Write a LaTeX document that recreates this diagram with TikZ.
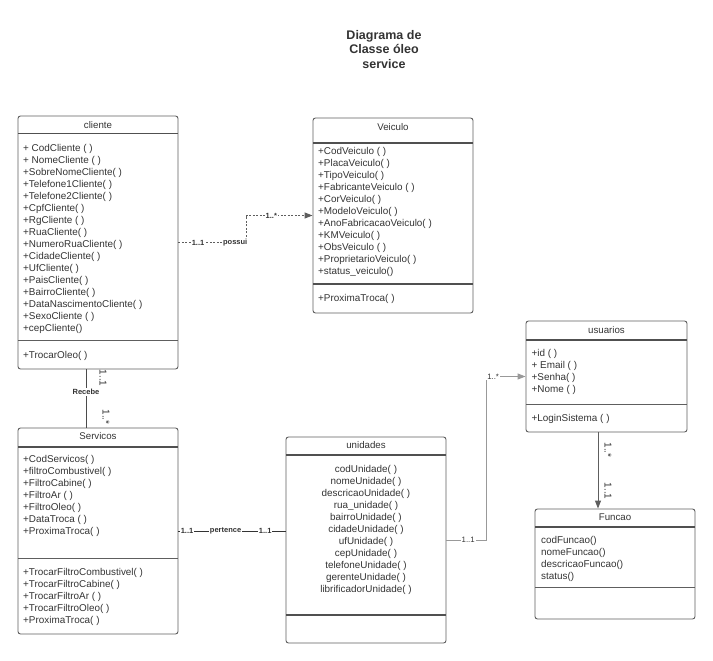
\documentclass[tikz,border=0pt]{standalone}
\usepackage{fontspec}
\setmainfont{Liberation Sans}
\usetikzlibrary{arrows.meta}

\definecolor{boxline}{HTML}{5E5E5E}
\definecolor{inktext}{HTML}{333333}
\definecolor{linkgray}{HTML}{999999}

\tikzset{
  classbox/.style={draw=boxline, line width=0.9pt, rounded corners=2.5pt,
    minimum width=160pt, inner sep=0pt},
  classname/.style={text=inktext, inner sep=0pt, font=\fontsize{9.7}{12}\selectfont},
  members/.style={anchor=north west, inner sep=0pt, align=left, text=inktext,
    font=\fontsize{9.9}{12}\selectfont},
  headline/.style={draw=boxline!85!black, line width=1.6pt},
  divline/.style={draw=boxline, line width=0.9pt},
  assoc/.style={draw=boxline, line width=0.9pt},
  linklabel/.style={fill=white, inner sep=1pt, text=inktext,
    font=\bfseries\fontsize{7.5}{9}\selectfont},
  multsmall/.style={fill=white, inner sep=1pt, text=inktext,
    font=\fontsize{7.8}{9}\selectfont},
  multrot/.style={rotate=-90, inner sep=0pt, text=inktext,
    font=\fontsize{10}{11}\selectfont},
  diagtitle/.style={align=center, text=inktext, inner sep=0pt,
    font=\bfseries\fontsize{12.5}{14.5}\selectfont},
  tip/.style={-{Triangle[length=8pt,width=6pt]}}
}

\begin{document}
\begin{tikzpicture}[x=1pt, y=-1pt]
  \useasboundingbox (0,0) rectangle (713,661);

  %title
  \node[diagtitle] (titulo) at (384,49.5) {Diagrama de\\Classe óleo\\service};

  %cliente
  \node[classbox, minimum height=253pt] (cliente) at (98,242.5) {};
  \node[classname] (cliente name) at (98,125) {cliente};
  \draw[headline] (18,133.5) -- (178,133.5);
  \node[members] (cliente attr) at (23,144.3) {+ CodCliente ( )\\+ NomeCliente ( )\\+SobreNomeCliente( )\\+Telefone1Cliente( )\\+Telefone2Cliente( )\\+CpfCliente( )\\+RgCliente ( )\\+RuaCliente( )\\+NumeroRuaCliente( )\\+CidadeCliente( )\\+UfCliente( )\\+PaisCliente( )\\+BairroCliente( )\\+DataNascimentoCliente( )\\+SexoCliente ( )\\+cepCliente()};
  \draw[divline] (18,340) -- (178,340);
  \node[members] (cliente ops) at (23,351.3) {+TrocarOleo( )};

  %Veiculo
  \node[classbox, minimum height=195pt] (veiculo) at (393,215.5) {};
  \node[classname] (veiculo name) at (393,127) {Veiculo};
  \draw[headline] (313,143) -- (473,143);
  \node[members] (veiculo attr) at (318,147.3) {+CodVeiculo ( )\\+PlacaVeiculo( )\\+TipoVeiculo( )\\+FabricanteVeiculo ( )\\+CorVeiculo( )\\+ModeloVeiculo( )\\+AnoFabricacaoVeiculo( )\\+KMVeiculo( )\\+ObsVeiculo ( )\\+ProprietarioVeiculo( )\\+status\_veiculo()};
  \draw[headline] (313,284) -- (473,284);
  \node[members] (veiculo ops) at (318,294.3) {+ProximaTroca( )};

  %Servicos
  \node[classbox, minimum height=206pt] (servicos) at (98,531) {};
  \node[classname] (servicos name) at (98,436) {Servicos};
  \draw[headline] (18,447) -- (178,447);
  \node[members] (servicos attr) at (23,455.3) {+CodServicos( )\\+filtroCombustivel( )\\+FiltroCabine( )\\+FiltroAr ( )\\+FiltroOleo( )\\+DataTroca ( )\\+ProximaTroca( )};
  \draw[divline] (18,558) -- (178,558);
  \node[members] (servicos ops) at (23,568.3) {+TrocarFiltroCombustivel( )\\+TrocarFiltroCabine( )\\+TrocarFiltroAr ( )\\+TrocarFiltroOleo( )\\+ProximaTroca( )};

  %unidades
  \node[classbox, minimum height=206pt] (unidades) at (366,540) {};
  \node[classname] (unidades name) at (366,445) {unidades};
  \draw[headline] (286,455) -- (446,455);
  \node[members, anchor=north, align=center] (unidades attr) at (366,465.3) {codUnidade( )\\nomeUnidade( )\\descricaoUnidade( )\\rua\_unidade( )\\bairroUnidade( )\\cidadeUnidade( )\\ufUnidade( )\\cepUnidade( )\\telefoneUnidade( )\\gerenteUnidade( )\\librificadorUnidade( )};
  \draw[headline] (286,615) -- (446,615);

  %usuarios
  \node[classbox, minimum width=161pt, minimum height=111pt] (usuarios) at (606.5,376.5) {};
  \node[classname] (usuarios name) at (606.5,330) {usuarios};
  \draw[headline] (526,340) -- (687,340);
  \node[members] (usuarios attr) at (531.5,349.3) {+id ( )\\+ Email ( )\\+Senha( )\\+Nome ( )};
  \draw[divline] (526,404) -- (687,404);
  \node[members] (usuarios ops) at (531.5,414.3) {+LoginSistema ( )};

  %Funcao
  \node[classbox, minimum height=110pt] (funcao) at (615,564) {};
  \node[classname] (funcao name) at (615,517) {Funcao};
  \draw[headline] (535,527) -- (695,527);
  \node[members] (funcao attr) at (541,536.3) {codFuncao()\\nomeFuncao()\\descricaoFuncao()\\status()};
  \draw[divline] (535,587) -- (695,587);

  %possui
  \coordinate (possui bend) at (246,242.5);
  \draw[assoc, dash pattern=on 2pt off 1.5pt, tip] (cliente.east)
    -- node[linklabel, pos=0.29] {1..1} node[linklabel, pos=0.84] {possui} (possui bend)
    |- node[linklabel, pos=0.69] {1..*} (veiculo.west);

  %Recebe
  \coordinate (recebe x) at (86,400);
  \draw[assoc, draw=boxline!80!black] (cliente.south -| recebe x)
    -- node[linklabel, pos=0.39] {Recebe} (servicos.north -| recebe x);
  \node[multrot] (recebe um) at (103,378) {1..1};
  \node[multrot] (recebe muitos) at (106,417) {1..*};

  %pertence
  \draw[assoc, draw=inktext] (servicos.east)
    -- node[linklabel, pos=0.08] {1..1} node[linklabel, pos=0.44] {pertence}
       node[linklabel, pos=0.81] {1..1} (servicos.east -| unidades.west);

  %unidades - usuarios
  \coordinate (acesso bend) at (486,540);
  \draw[assoc, draw=linkgray, tip] (unidades.east)
    -- node[multsmall, pos=0.55] {1..1} (acesso bend)
    |- node[multsmall, pos=0.59] {1..*} (usuarios.west);

  %usuarios - Funcao
  \coordinate (funcao x) at (598,470);
  \draw[assoc, tip] (usuarios.south -| funcao x) -- (funcao.north -| funcao x);
  \node[multrot] (funcao muitos) at (608,450) {1..*};
  \node[multrot] (funcao um) at (608,491) {1..1};
\end{tikzpicture}
\end{document}
